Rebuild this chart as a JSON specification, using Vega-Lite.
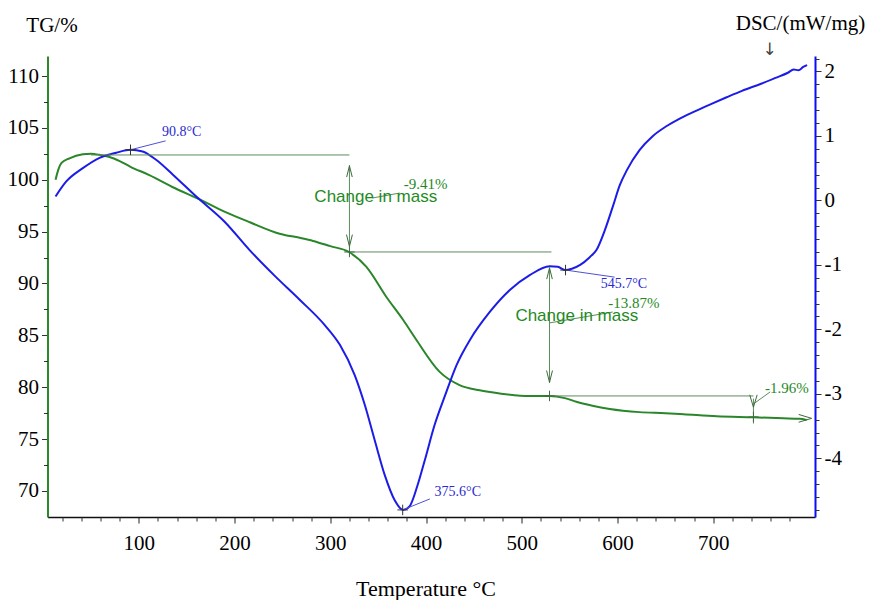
{
  "$schema": "https://vega.github.io/schema/vega-lite/v6.json",
  "width": 767.5,
  "height": 461,
  "autosize": {"type": "none"},
  "padding": {"left": 47.5, "top": 56, "right": 56, "bottom": 83},
  "background": "white",
  "config": {"view": {"stroke": null}, "axis": {"grid": false}},
  "datasets": {
    "tg": [
      {"T": 13, "TG": 100.0}, {"T": 16, "TG": 101.0}, {"T": 19, "TG": 101.6}, {"T": 27.6, "TG": 102.07},
      {"T": 41.5, "TG": 102.45}, {"T": 50, "TG": 102.5}, {"T": 59, "TG": 102.4}, {"T": 69.4, "TG": 102.2},
      {"T": 80, "TG": 101.8}, {"T": 91.3, "TG": 101.25}, {"T": 111, "TG": 100.45}, {"T": 135, "TG": 99.3},
      {"T": 163.5, "TG": 98.1}, {"T": 190, "TG": 96.9}, {"T": 216, "TG": 95.9}, {"T": 247, "TG": 94.8},
      {"T": 268, "TG": 94.4}, {"T": 282, "TG": 94.1}, {"T": 300, "TG": 93.6}, {"T": 319, "TG": 93.06},
      {"T": 337.7, "TG": 91.6}, {"T": 358.6, "TG": 88.7}, {"T": 376, "TG": 86.5}, {"T": 390, "TG": 84.55},
      {"T": 414, "TG": 81.5}, {"T": 435, "TG": 80.2}, {"T": 456, "TG": 79.7}, {"T": 477, "TG": 79.4},
      {"T": 508, "TG": 79.15}, {"T": 529, "TG": 79.15}, {"T": 545, "TG": 78.95}, {"T": 557, "TG": 78.6},
      {"T": 575, "TG": 78.2}, {"T": 592, "TG": 77.9}, {"T": 623, "TG": 77.6}, {"T": 650, "TG": 77.5},
      {"T": 669, "TG": 77.4}, {"T": 703.6, "TG": 77.2}, {"T": 742, "TG": 77.1}, {"T": 773, "TG": 77.0},
      {"T": 790, "TG": 76.95}, {"T": 797.6, "TG": 76.85}
    ],
    "dsc": [
      {"T": 13, "DSC": 0.06}, {"T": 24, "DSC": 0.29}, {"T": 41.5, "DSC": 0.5}, {"T": 59, "DSC": 0.66},
      {"T": 76.4, "DSC": 0.74}, {"T": 91.3, "DSC": 0.785}, {"T": 104, "DSC": 0.76}, {"T": 118, "DSC": 0.63},
      {"T": 135.6, "DSC": 0.4}, {"T": 160, "DSC": 0.06}, {"T": 189.6, "DSC": -0.33}, {"T": 215.7, "DSC": -0.77},
      {"T": 242, "DSC": -1.17}, {"T": 268, "DSC": -1.54}, {"T": 294, "DSC": -1.93}, {"T": 310, "DSC": -2.24},
      {"T": 325.5, "DSC": -2.71}, {"T": 336, "DSC": -3.17}, {"T": 346.4, "DSC": -3.72}, {"T": 356.9, "DSC": -4.26},
      {"T": 367.3, "DSC": -4.65}, {"T": 376, "DSC": -4.8}, {"T": 383, "DSC": -4.74}, {"T": 391.3, "DSC": -4.41},
      {"T": 398.7, "DSC": -4.03}, {"T": 409, "DSC": -3.48}, {"T": 420, "DSC": -3.02}, {"T": 432, "DSC": -2.55},
      {"T": 446, "DSC": -2.16}, {"T": 466.6, "DSC": -1.73}, {"T": 487.5, "DSC": -1.39}, {"T": 508.3, "DSC": -1.16},
      {"T": 529, "DSC": -1.02}, {"T": 537.7, "DSC": -1.03}, {"T": 545, "DSC": -1.08}, {"T": 552.3, "DSC": -1.06},
      {"T": 561, "DSC": -1.0}, {"T": 571, "DSC": -0.88}, {"T": 578, "DSC": -0.77}, {"T": 586.8, "DSC": -0.46},
      {"T": 595, "DSC": -0.1}, {"T": 602.5, "DSC": 0.24}, {"T": 609.8, "DSC": 0.47}, {"T": 623, "DSC": 0.78},
      {"T": 637, "DSC": 1.0}, {"T": 651, "DSC": 1.15}, {"T": 665, "DSC": 1.27}, {"T": 679, "DSC": 1.37},
      {"T": 697, "DSC": 1.49}, {"T": 714, "DSC": 1.6}, {"T": 730, "DSC": 1.7}, {"T": 750, "DSC": 1.81},
      {"T": 765, "DSC": 1.9}, {"T": 778, "DSC": 1.98}, {"T": 784, "DSC": 2.03}, {"T": 789, "DSC": 2.02},
      {"T": 794, "DSC": 2.07}, {"T": 798, "DSC": 2.1}
    ],
    "gseg": [
      {"T": 50, "T2": 320, "v": 102.39, "v2": 102.39},
      {"T": 320, "T2": 320, "v": 101.42, "v2": 93.52},
      {"T": 320, "T2": 531, "v": 93.04, "v2": 93.04},
      {"T": 529, "T2": 529, "v": 91.59, "v2": 80.41},
      {"T": 529, "T2": 742, "v": 79.16, "v2": 79.16},
      {"T": 742, "T2": 742, "v": 78.9, "v2": 76.5},
      {"T": 344, "T2": 372.5, "v": 98.24, "v2": 98.72},
      {"T": 529, "T2": 595, "v": 86.2, "v2": 87.25},
      {"T": 742, "T2": 759.5, "v": 78.39, "v2": 79.55}
    ],
    "gmark": [
      {"T": 320, "v": 93.04, "kind": "cross"},
      {"T": 529, "v": 79.16, "kind": "cross"},
      {"T": 742, "v": 77.13, "kind": "cross"},
      {"T": 320, "v": 100.8, "kind": "up"},
      {"T": 320, "v": 94.14, "kind": "down"},
      {"T": 529, "v": 90.96, "kind": "up"},
      {"T": 529, "v": 81.04, "kind": "down"},
      {"T": 742, "v": 78.67, "kind": "small"},
      {"T": 796, "v": 77.0, "kind": "right"}
    ],
    "gpct": [
      {"T": 399.7, "v": 99.59, "text": "-9.41%"},
      {"T": 617.1, "v": 88.12, "text": "-13.87%"},
      {"T": 777, "v": 79.93, "text": "-1.96%"}
    ],
    "gchg": [
      {"T": 347.5, "v": 98.34, "text": "Change in mass"},
      {"T": 557.5, "v": 86.87, "text": "Change in mass"}
    ],
    "bseg": [
      {"T": 91.3, "T2": 128, "v": 0.785, "v2": 0.924},
      {"T": 545.7, "T2": 597, "v": -1.08, "v2": -1.19},
      {"T": 375.6, "T2": 404, "v": -4.8, "v2": -4.63}
    ],
    "bmark": [
      {"T": 91.3, "v": 0.785}, {"T": 545.7, "v": -1.08}, {"T": 375.6, "v": -4.8}
    ],
    "btext": [
      {"T": 144.7, "v": 1.064, "text": "90.8°C"},
      {"T": 606.7, "v": -1.3, "text": "545.7°C"},
      {"T": 433.2, "v": -4.52, "text": "375.6°C"}
    ],
    "arrow": [{"T": 759, "v": 2.337, "text": "↓"}]
  },
  "resolve": {"scale": {"y": "independent"}, "axis": {"x": "independent"}},
  "layer": [
    {
      "data": {"name": "tg"},
      "mark": {"type": "line", "color": "#2a862a", "strokeWidth": 2, "interpolate": "monotone"},
      "encoding": {
        "x": {"field": "T", "type": "quantitative", "scale": {"domain": [4.6, 806.3], "nice": false, "zero": false},
          "axis": {"orient": "bottom", "values": [100, 200, 300, 400, 500, 600, 700], "tickSize": 6, "tickColor": "#222", "domainColor": "#111", "domainWidth": 1.5,
            "labelFont": "Liberation Serif", "labelFontSize": 21, "labelColor": "#000", "labelPadding": 9,
            "title": "Temperature °C", "titleFont": "Liberation Serif", "titleFontSize": 22, "titleFontWeight": "normal", "titleColor": "#000", "titleX": 378, "titleY": 71, "titleAlign": "center", "titleBaseline": "middle"}},
        "y": {"field": "TG", "type": "quantitative", "scale": {"domain": [67.49, 111.93], "nice": false, "zero": false},
          "axis": {"orient": "left", "values": [70, 75, 80, 85, 90, 95, 100, 105, 110], "tickSize": 6, "tickColor": "#333", "domainColor": "#2a8a2a", "domainWidth": 2,
            "labelFont": "Liberation Serif", "labelFontSize": 21, "labelColor": "#000", "labelPadding": 3,
            "title": "TG/%", "titleFont": "Liberation Serif", "titleFontSize": 21, "titleFontWeight": "normal", "titleColor": "#000", "titleAngle": 0, "titleX": 4, "titleY": -31, "titleAlign": "center", "titleBaseline": "middle"}}
      }
    },
    {
      "data": {"name": "dsc"},
      "mark": {"type": "line", "color": "#1c1ce8", "strokeWidth": 2, "interpolate": "monotone"},
      "encoding": {
        "x": {"field": "T", "type": "quantitative", "axis": null},
        "y": {"field": "DSC", "type": "quantitative", "scale": {"domain": [-4.91, 2.24], "nice": false, "zero": false},
          "axis": {"orient": "right", "values": [-4, -3, -2, -1, 0, 1, 2], "labelExpr": "toString(datum.value)", "tickSize": 6, "tickColor": "#333", "domainColor": "#0a0aff", "domainWidth": 2,
            "labelFont": "Liberation Serif", "labelFontSize": 21, "labelColor": "#000", "labelPadding": 3,
            "title": "DSC/(mW/mg)", "titleFont": "Liberation Serif", "titleFontSize": 21, "titleFontWeight": "normal", "titleColor": "#000", "titleAngle": 0, "titleX": -15, "titleY": -33, "titleAlign": "center", "titleBaseline": "middle"}}
      }
    },
    {
      "data": {"name": "gseg"},
      "mark": {"type": "rule", "color": "#5d8c5d", "strokeWidth": 1},
      "encoding": {
        "x": {"field": "T", "type": "quantitative",
          "axis": {"orient": "bottom", "values": [20, 40, 60, 80, 120, 140, 160, 180, 220, 240, 260, 280, 320, 340, 360, 380, 420, 440, 460, 480, 520, 540, 560, 580, 620, 640, 660, 680, 720, 740, 760, 780], "tickSize": 4, "tickColor": "#333", "labels": false, "domain": false, "title": null}},
        "x2": {"field": "T2"},
        "y": {"field": "v", "type": "quantitative", "scale": {"domain": [67.49, 111.93], "nice": false, "zero": false},
          "axis": {"orient": "left", "values": [72.5, 77.5, 82.5, 87.5, 92.5, 97.5, 102.5, 107.5], "tickSize": 4, "tickColor": "#333", "labels": false, "domain": false, "title": null}},
        "y2": {"field": "v2"}
      }
    },
    {
      "data": {"name": "gmark"},
      "mark": {"type": "point", "filled": false, "stroke": "#3d6b3d", "strokeWidth": 1, "opacity": 1},
      "encoding": {
        "x": {"field": "T", "type": "quantitative", "axis": null},
        "y": {"field": "v", "type": "quantitative", "scale": {"domain": [67.49, 111.93], "nice": false, "zero": false}, "axis": null},
        "shape": {"field": "kind", "type": "nominal", "legend": null,
          "scale": {"domain": ["cross", "up", "down", "small", "right"],
            "range": ["M-1,0L1,0M0,-1L0,1", "M-0.5,1L0,-1L0.5,1", "M-0.5,-1L0,1L0.5,-1", "M-0.6,-1L0,1L0.6,-1", "M-1,-0.6L1,0L-1,0.6"]}},
        "size": {"field": "kind", "type": "nominal", "legend": null,
          "scale": {"domain": ["cross", "up", "down", "small", "right"], "range": [110, 169, 169, 49, 40]}}
      }
    },
    {
      "data": {"name": "gpct"},
      "mark": {"type": "text", "font": "Liberation Serif", "fontSize": 15, "color": "#1f8a1f", "align": "center", "baseline": "middle"},
      "encoding": {
        "x": {"field": "T", "type": "quantitative", "axis": null},
        "y": {"field": "v", "type": "quantitative", "scale": {"domain": [67.49, 111.93], "nice": false, "zero": false}, "axis": null},
        "text": {"field": "text"}
      }
    },
    {
      "data": {"name": "gchg"},
      "mark": {"type": "text", "font": "Liberation Sans", "fontSize": 17, "color": "#1f8a1f", "align": "center", "baseline": "middle"},
      "encoding": {
        "x": {"field": "T", "type": "quantitative", "axis": null},
        "y": {"field": "v", "type": "quantitative", "scale": {"domain": [67.49, 111.93], "nice": false, "zero": false}, "axis": null},
        "text": {"field": "text"}
      }
    },
    {
      "data": {"name": "bseg"},
      "mark": {"type": "rule", "color": "#5050d8", "strokeWidth": 1},
      "encoding": {
        "x": {"field": "T", "type": "quantitative", "axis": null},
        "x2": {"field": "T2"},
        "y": {"field": "v", "type": "quantitative", "scale": {"domain": [-4.91, 2.24], "nice": false, "zero": false},
          "axis": {"orient": "right", "values": [-4.8, -4.6, -4.4, -4.2, -3.8, -3.6, -3.4, -3.2, -2.8, -2.6, -2.4, -2.2, -1.8, -1.6, -1.4, -1.2, -0.8, -0.6, -0.4, -0.2, 0.2, 0.4, 0.6, 0.8, 1.2, 1.4, 1.6, 1.8, 2.2], "tickSize": 4, "tickColor": "#333", "labels": false, "domain": false, "title": null}},
        "y2": {"field": "v2"}
      }
    },
    {
      "data": {"name": "bmark"},
      "mark": {"type": "point", "filled": false, "stroke": "#333", "strokeWidth": 1, "opacity": 1, "shape": "M-1,0L1,0M0,-1L0,1", "size": 110},
      "encoding": {
        "x": {"field": "T", "type": "quantitative", "axis": null},
        "y": {"field": "v", "type": "quantitative", "scale": {"domain": [-4.91, 2.24], "nice": false, "zero": false}, "axis": null}
      }
    },
    {
      "data": {"name": "btext"},
      "mark": {"type": "text", "font": "Liberation Serif", "fontSize": 14, "color": "#2a2ad2", "align": "center", "baseline": "middle"},
      "encoding": {
        "x": {"field": "T", "type": "quantitative", "axis": null},
        "y": {"field": "v", "type": "quantitative", "scale": {"domain": [-4.91, 2.24], "nice": false, "zero": false}, "axis": null},
        "text": {"field": "text"}
      }
    },
    {
      "data": {"name": "arrow"},
      "mark": {"type": "text", "font": "DejaVu Sans", "fontSize": 17, "color": "#444", "align": "center", "baseline": "middle", "clip": false},
      "encoding": {
        "x": {"field": "T", "type": "quantitative", "axis": null},
        "y": {"field": "v", "type": "quantitative", "scale": {"domain": [-4.91, 2.24], "nice": false, "zero": false}, "axis": null},
        "text": {"field": "text"}
      }
    }
  ]
}
